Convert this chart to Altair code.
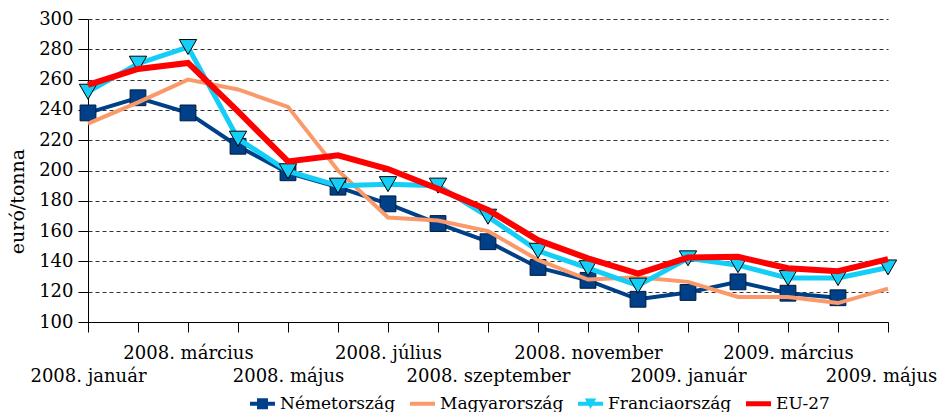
import altair as alt
import pandas as pd

months = ["2008. január", "2008. február", "2008. március", "2008. április",
          "2008. május", "2008. június", "2008. július", "2008. augusztus",
          "2008. szeptember", "2008. október", "2008. november", "2008. december",
          "2009. január", "2009. február", "2009. március", "2009. április",
          "2009. május"]
row1_labels = ["2008. március", "2008. július", "2008. november", "2009. március"]
row2_labels = ["2008. január", "2008. május", "2008. szeptember", "2009. január", "2009. május"]

series = ["Németország", "Magyarország", "Franciaország", "EU-27"]
colors = ["#004088", "#FA9A6A", "#13CFF7", "#FF0000"]
widths = [4, 4, 5, 6]

de = [238, 248, 238, 216, 198.5, 189, 178, 165, 153, 136, 127.5, 115, 119.5, 126.5, 119, 116, None]
hu = [231, 245, 260, 253.5, 242, 200, 169, 167, 160, 141, 128, 129.5, 126.5, 116.5, 116.5, 112.5, 122]
fr = [252, 270.5, 281.5, 221, 199.5, 190, 191, 190, 169.5, 147, 135.5, 124, 142, 137.5, 129, 129, 136]
eu = [256.5, 267, 271, 239, 206, 210, 201, 188, 174, 154, 142, 132, 142.5, 143, 135.5, 133.5, 141.5]

rows = []
for s, vals in zip(series, [de, hu, fr, eu]):
    for m, v in zip(months, vals):
        if v is not None:
            rows.append({"month": m, "series": s, "value": v})
df = pd.DataFrame(rows)

FONT = "DejaVu Serif"
FS = 18

def js_list(lst):
    return "[" + ",".join("'" + t + "'" for t in lst) + "]"

label_expr = (
    f"indexof({js_list(row2_labels)}, datum.value) >= 0 ? ['', datum.value] : "
    f"(indexof({js_list(row1_labels)}, datum.value) >= 0 ? datum.value : '')"
)

x_enc = alt.X(
    "month:O", sort=months,
    scale=alt.Scale(domain=months, padding=0),
    axis=alt.Axis(
        title=None, labelExpr=label_expr, labelAngle=0, labelOverlap=False,
        labelFont=FONT, labelFontSize=FS, labelColor="black",
        labelPadding=12, labelLineHeight=23, labelBaseline="top",
        labelOffset={"condition": {"test": f"datum.value == '{months[-1]}'", "value": -7}, "value": 0},
        tickSize=10, tickColor="black", domainColor="black", grid=False,
        labelLimit=300,
    ),
)
y_enc = alt.Y(
    "value:Q",
    scale=alt.Scale(domain=[100, 300], nice=False, zero=False),
    axis=alt.Axis(
        values=list(range(100, 301, 20)), title="euró/tonna",
        labelFont=FONT, labelFontSize=FS, labelColor="black", labelPadding=5,
        tickSize=10, tickColor="black", domainColor="black",
        grid=True, gridDash=[4, 3], gridColor="#333333", gridWidth=1,
        titleFont=FONT, titleFontSize=19, titleFontWeight="normal",
        titleColor="black", titleX=-71, titleY=182, titleAngle=270,
        titleAlign="center", titleBaseline="middle",
    ),
)

base = alt.Chart(df).encode(x=x_enc, y=y_enc)

def line_layer(i):
    return base.transform_filter(alt.datum.series == series[i]).mark_line(
        color=colors[i], strokeWidth=widths[i], strokeJoin="miter"
    )

squares = base.transform_filter(alt.datum.series == series[0]).mark_point(
    shape="square", size=250, filled=True, fill=colors[0],
    stroke="#001a3a", strokeWidth=1, opacity=1,
)
triangles = base.transform_filter(alt.datum.series == series[2]).mark_point(
    shape="triangle-down", size=300, filled=True, fill=colors[2],
    stroke="#000000", strokeWidth=1, opacity=1,
)

legend_paths = [
    "M-1,-0.16L1,-0.16L1,0.16L-1,0.16Z M-0.44,-0.44L0.44,-0.44L0.44,0.44L-0.44,0.44Z",
    "M-1,-0.16L1,-0.16L1,0.16L-1,0.16Z",
    "M-1,-0.16L1,-0.16L1,0.16L-1,0.16Z M-0.46,-0.42L0.46,-0.42L0,0.42Z",
    "M-1,-0.2L1,-0.2L1,0.2L-1,0.2Z",
]
leg = alt.Legend(
    orient="none", legendX=162, legendY=372, direction="horizontal", title=None,
    labelFont=FONT, labelFontSize=17, labelColor="black", labelLimit=300,
    symbolSize=625, symbolStrokeWidth=0, symbolOpacity=1,
    labelOffset=5, columnPadding=14, padding=0,
)
legend_layer = base.transform_filter("false").mark_point(filled=True, opacity=1).encode(
    color=alt.Color("series:N", scale=alt.Scale(domain=series, range=colors), legend=leg),
    shape=alt.Shape("series:N", scale=alt.Scale(domain=series, range=legend_paths), legend=leg),
)

chart = alt.layer(
    line_layer(0), squares, line_layer(1), line_layer(2), triangles, line_layer(3), legend_layer
).properties(
    width=800, height=303,
    autosize=alt.AutoSizeParams(type="none"),
    padding={"left": 80, "top": 11, "right": 49, "bottom": 90},
).configure(font=FONT).configure_view(stroke=None)

chart.save("out.html", embed_options={"renderer": "svg", "actions": False})
